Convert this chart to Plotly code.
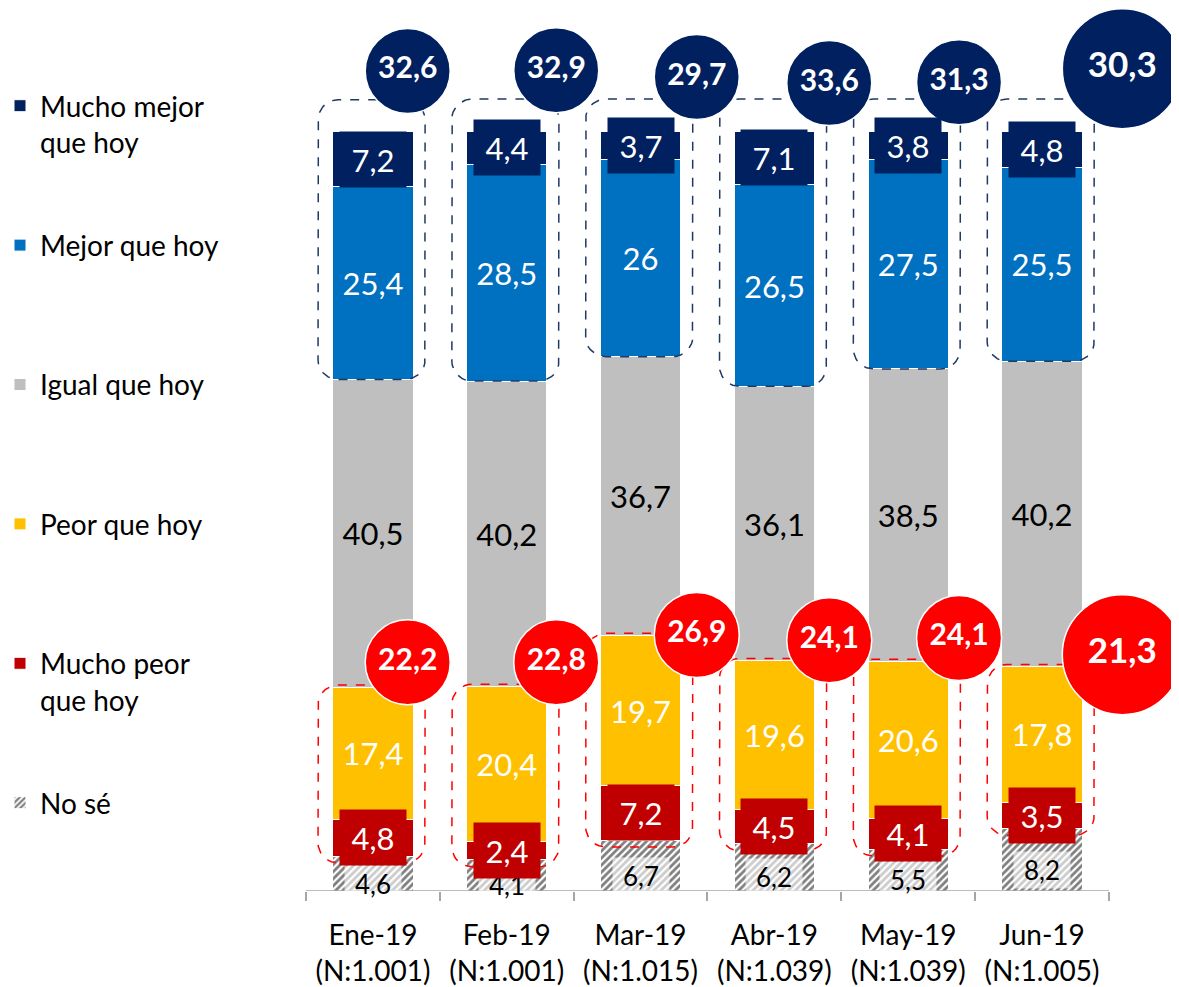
import numpy as np
import plotly.graph_objects as go

# ---------------- data ----------------
months = ["Ene-19", "Feb-19", "Mar-19", "Abr-19", "May-19", "Jun-19"]
sample_sizes = ["N:1.001", "N:1.001", "N:1.015", "N:1.039", "N:1.039", "N:1.005"]
no_se = [4.6, 4.1, 6.7, 6.2, 5.5, 8.2]
mucho_peor = [4.8, 2.4, 7.2, 4.5, 4.1, 3.5]
peor = [17.4, 20.4, 19.7, 19.6, 20.6, 17.8]
igual = [40.5, 40.2, 36.7, 36.1, 38.5, 40.2]
mejor = [25.4, 28.5, 26, 26.5, 27.5, 25.5]
mucho_mejor = [7.2, 4.4, 3.7, 7.1, 3.8, 4.8]
total_mejor = [32.6, 32.9, 29.7, 33.6, 31.3, 30.3]
total_peor = [22.2, 22.8, 26.9, 24.1, 24.1, 21.3]

# ---------------- style ----------------
FONT = "Lato, Calibri, Carlito, sans-serif"
NAVY = "#002060"
BLUE = "#0070C0"
GRAY = "#BFBFBF"
YELLOW = "#FFC000"
DARKRED = "#C00000"
RED = "#FF0000"
LABEL_SIZE = 31
CIRCLE_DX = [0.26, 0.37, 0.42, 0.41, 0.38, 0.6]
CIRCLE_DY_TOP = [8.0, 8.0, 7.1, 6.3, 6.4, 8.2]
CIRCLE_DY_BOT = [3.3, 3.2, 0.1, 2.7, 3.1, 1.6]
CIRCLE_SIZE = [85, 85, 85, 85, 85, 120]
CIRCLE_FONT = [30, 30, 30, 30, 30, 35]
PX_PER_UNIT = 7.6
W, H = 1171, 979
ML, MR, MT, MB = 294, 54, 0, 96
X_MAX = 5.62


def fmt(v):
    return f"{v:g}".replace(".", ",")


xlabels = [f"{m}<br>({n})" for m, n in zip(months, sample_sizes)]
idx = np.arange(len(months))

c1 = np.array(no_se)
c2 = c1 + np.array(mucho_peor)
c3 = c2 + np.array(peor)
c4 = c3 + np.array(igual)
c5 = c4 + np.array(mejor)
c6 = c5 + np.array(mucho_mejor)

fig = go.Figure()

series = [
    ("No sé", no_se, None, "black"),
    ("Mucho peor<br>que hoy", mucho_peor, DARKRED, "white"),
    ("Peor que hoy<br>\u00a0", peor, YELLOW, "white"),
    ("Igual que hoy<br>\u00a0", igual, GRAY, "black"),
    ("Mejor que hoy<br>\u00a0", mejor, BLUE, "white"),
    ("Mucho mejor<br>que hoy", mucho_mejor, NAVY, "white"),
]
inside = {2, 3, 4}
for k, (name, vals, col, tcol) in enumerate(series):
    if col is None:
        marker = dict(color="white",
                      pattern=dict(shape="/", fgcolor="black", bgcolor="white",
                                   size=5, solidity=0.55),
                      line=dict(color="white", width=1))
    else:
        marker = dict(color=col, line=dict(color="white", width=1))
    fig.add_trace(go.Bar(
        x=xlabels, y=vals, name=name, marker=marker, width=0.6,
        legendgroup=f"g{k}", legendrank=100 - k,
        text=[fmt(v) for v in vals] if k in inside else None,
        textposition="inside" if k in inside else "none",
        insidetextanchor="middle",
        textfont=dict(family=FONT, size=LABEL_SIZE, color=tcol),
        textangle=0,
        hoverinfo="skip",
    ))

# labels with boxes for the thin segments
for i in range(len(months)):
    fig.add_annotation(x=i, y=c1[i] / 2, yshift=-10, text=fmt(no_se[i]),
                       showarrow=False, bgcolor="rgba(255,255,255,0.6)",
                       width=54, height=34,
                       font=dict(family=FONT, size=26, color="black"))
for i in range(len(months)):
    fig.add_annotation(x=i, y=(c5[i] + c6[i]) / 2, text=fmt(mucho_mejor[i]),
                       showarrow=False, bgcolor=NAVY, width=64, height=53,
                       font=dict(family=FONT, size=LABEL_SIZE, color="white"))
    fig.add_annotation(x=i, y=(c1[i] + c2[i]) / 2, text=fmt(mucho_peor[i]),
                       showarrow=False, bgcolor=DARKRED, width=64, height=53,
                       font=dict(family=FONT, size=LABEL_SIZE, color="white"))


def rounded_rect(x0, x1, y0, y1, rx=0.15, ry=2.6, n=10):
    xs, ys = [], []

    def arc(cx, cy, a0, a1):
        t = np.linspace(np.radians(a0), np.radians(a1), n)
        xs.extend(cx + rx * np.cos(t))
        ys.extend(cy + ry * np.sin(t))

    arc(x1 - rx, y1 - ry, 90, 0)
    arc(x1 - rx, y0 + ry, 0, -90)
    arc(x0 + rx, y0 + ry, -90, -180)
    arc(x0 + rx, y1 - ry, 180, 90)
    xs.append(xs[0]); ys.append(ys[0])
    xs.append(None); ys.append(None)
    return xs, ys


bx, by, rxs, rys = [], [], [], []
for i in range(len(months)):
    a, b = rounded_rect(i - 0.41, i + 0.39, c4[i], c6[i] + 4.2)
    bx += a; by += b
    a, b = rounded_rect(i - 0.41, i + 0.39, c1[i] - 0.9, c3[i] + 0.3)
    rxs += a; rys += b

fig.add_trace(go.Scatter(x=bx, y=by, xaxis="x2", mode="lines", showlegend=False,
                         line=dict(color="#203864", width=1.5, dash="dash"),
                         hoverinfo="skip"))
fig.add_trace(go.Scatter(x=rxs, y=rys, xaxis="x2", mode="lines", showlegend=False,
                         line=dict(color=RED, width=1.5, dash="dash"),
                         hoverinfo="skip"))

# total circles
for totals, base, dy, col in [(total_mejor, c6, CIRCLE_DY_TOP, NAVY),
                              (total_peor, c3, CIRCLE_DY_BOT, RED)]:
    fig.add_trace(go.Scatter(
        x=idx + np.array(CIRCLE_DX), y=base + np.array(dy), xaxis="x2",
        mode="markers+text", text=[fmt(v) for v in totals],
        textposition="middle center",
        textfont=dict(family=FONT, size=CIRCLE_FONT, color="white", weight="bold"),
        marker=dict(size=CIRCLE_SIZE, color=col, opacity=1,
                    line=dict(color="white", width=1.5)),
        showlegend=False, cliponaxis=False, hoverinfo="skip"))

plot_h = H - MT - MB
fig.update_layout(
    width=W, height=H,
    margin=dict(l=ML, r=MR, t=MT, b=MB),
    barmode="stack", bargap=0.4,
    plot_bgcolor="white", paper_bgcolor="white",
    font=dict(family=FONT, size=28, color="black"),
    showlegend=True,
    legend=dict(x=-(ML + 6) / (W - ML - MR), xanchor="left",
                y=(plot_h - 73) / plot_h, yanchor="top",
                traceorder="grouped", tracegroupgap=63.6, indentation=-8,
                valign="top", font=dict(family=FONT, size=28, color="black"),
                bgcolor="rgba(0,0,0,0)"),
    xaxis=dict(type="category", range=[-0.5, X_MAX], showline=False,
               ticks="outside", tickson="boundaries", ticklen=9,
               tickcolor="#A6A6A6", tickwidth=1.5, showgrid=False,
               ticklabelstandoff=25,
               tickfont=dict(family=FONT, size=28, color="black")),
    xaxis2=dict(overlaying="x", range=[-0.5, X_MAX], visible=False),
    yaxis=dict(range=[0, plot_h / PX_PER_UNIT], visible=False, showgrid=False,
               zeroline=False),
    shapes=[dict(type="line", xref="x", yref="y", x0=-0.5, x1=5.5, y0=0, y1=0,
                 line=dict(color="#A6A6A6", width=1.5), layer="above")],
)

fig.write_html("out.html")
